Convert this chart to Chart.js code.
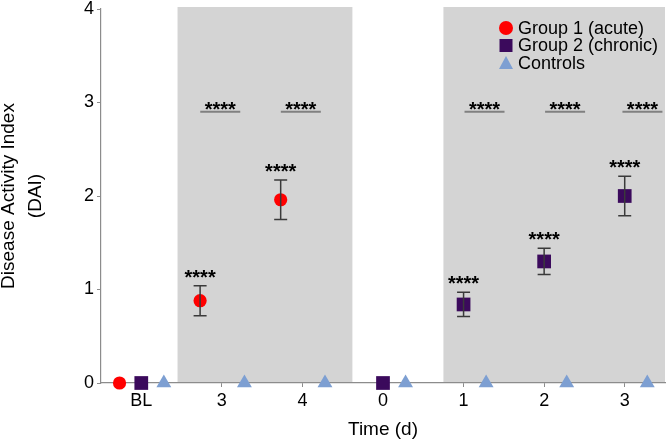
<!DOCTYPE html>
<html lang="en">
<head>
<meta charset="UTF-8">
<title>Disease Activity Index</title>
<script src="https://cdn.jsdelivr.net/npm/chart.js"></script>
<style>
    html, body { margin: 0; padding: 0; background: #fff; }
    #dai { display: block; }
</style>
</head>
<body>
<canvas id="dai" width="668" height="445"></canvas>
<script>
    // time points (baseline, acute days 3-4, chronic days 0-3)
    const timeLabels = ["BL", "3", "4", "0", "1", "2", "3"];

    const acuteMean   = [0, 0.88, 1.96, null, null, null, null];
    const acuteErr    = [0, 0.16, 0.21, null, null, null, null];
    const chronicMean = [0, null, null, 0, 0.84, 1.30, 2.00];
    const chronicErr  = [0, null, null, 0, 0.13, 0.14, 0.21];
    const controlMean = [0, 0, 0, 0, 0, 0, 0];

    // shaded periods, in time-point units
    const shadedSpans = [[0.45, 2.62], [3.75, 6.5]];

    // "****" over the controls comparison
    const sigBarX = [0.98, 1.98, 4.26, 5.26, 6.22];
    const sigBarLevel = 2.9;

    const FONT = "Arial, 'Liberation Sans', sans-serif";

    function toPoints(values, shift) {
        const pts = [];
        values.forEach((v, i) => {
            if (v !== null) pts.push({ x: i + shift, y: v });
        });
        return pts;
    }

    // kill the label overhang chart.js reserves at the ends of the axes
    function noMargins(s) {
        s.paddingLeft = s.paddingRight = s.paddingTop = s.paddingBottom = 0;
        if (s._margins) {
            s._margins.left = s._margins.right = 0;
            s._margins.top = s._margins.bottom = 0;
        }
    }

    const shading = {
        id: "shading",
        beforeDatasetsDraw(chart) {
            const { ctx, chartArea, scales } = chart;
            ctx.save();
            ctx.fillStyle = "#d4d4d4";
            shadedSpans.forEach(([a, b]) => {
                const x1 = scales.x.getPixelForValue(a);
                const x2 = scales.x.getPixelForValue(b);
                ctx.fillRect(x1, chartArea.top - 2, x2 - x1, chartArea.bottom - chartArea.top + 1);
            });
            ctx.restore();
        }
    };

    function drawStars(ctx, x, centerY) {
        const m = ctx.measureText("****");
        const off = (m.actualBoundingBoxAscent - m.actualBoundingBoxDescent) / 2;
        ctx.fillText("****", x, centerY + off);
    }

    const errorBars = {
        id: "errorBars",
        afterDatasetsDraw(chart) {
            const { ctx, scales } = chart;
            ctx.save();
            ctx.strokeStyle = "#3a3a3a";
            ctx.lineWidth = 1.5;
            ctx.fillStyle = "#000";
            ctx.font = "bold 20px " + FONT;
            ctx.textAlign = "center";
            const groups = [[acuteMean, acuteErr, -0.27], [chronicMean, chronicErr, 0]];
            groups.forEach(([means, errs, shift]) => {
                means.forEach((m, i) => {
                    if (m === null || !errs[i]) return;
                    const x = scales.x.getPixelForValue(i + shift);
                    const yTop = scales.y.getPixelForValue(m + errs[i]);
                    const yBot = scales.y.getPixelForValue(m - errs[i]);
                    ctx.beginPath();
                    ctx.moveTo(x, yTop); ctx.lineTo(x, yBot);
                    ctx.moveTo(x - 6.5, yTop); ctx.lineTo(x + 6.5, yTop);
                    ctx.moveTo(x - 6.5, yBot); ctx.lineTo(x + 6.5, yBot);
                    ctx.stroke();
                    drawStars(ctx, x, yTop - 12);
                });
            });

            // comparison bars
            const yLine = scales.y.getPixelForValue(sigBarLevel);
            ctx.strokeStyle = "#808080";
            ctx.lineWidth = 2;
            sigBarX.forEach(v => {
                const x = scales.x.getPixelForValue(v);
                ctx.beginPath();
                ctx.moveTo(x - 20, yLine); ctx.lineTo(x + 20, yLine);
                ctx.stroke();
                drawStars(ctx, x, yLine - 6);
            });
            ctx.restore();
        }
    };

    const legendBox = {
        id: "legendBox",
        afterDraw(chart) {
            const { ctx } = chart;
            ctx.save();
            ctx.font = "18px " + FONT;
            ctx.textBaseline = "middle";
            ctx.fillStyle = "#000";
            const x0 = 506, rows = [28, 45.5, 63];
            chart.data.datasets.forEach((ds, i) => {
                const y = rows[i];
                ctx.fillStyle = ds.backgroundColor;
                ctx.beginPath();
                if (ds.pointStyle === "circle") {
                    ctx.arc(x0, y, 7, 0, Math.PI * 2);
                } else if (ds.pointStyle === "rect") {
                    ctx.rect(x0 - 6.5, y - 6.5, 13, 13);
                } else {
                    ctx.moveTo(x0, y - 7); ctx.lineTo(x0 + 7, y + 6); ctx.lineTo(x0 - 7, y + 6);
                    ctx.closePath();
                }
                ctx.fill();
                ctx.fillStyle = "#000";
                ctx.fillText(ds.label, x0 + 12, y + 1);
            });
            ctx.restore();
        }
    };

    new Chart(document.getElementById("dai"), {
        type: "scatter",
        data: {
            datasets: [
                {
                    label: "Group 1 (acute)",
                    data: toPoints(acuteMean, -0.27),
                    pointStyle: "circle",
                    pointRadius: 6.6,
                    backgroundColor: "#ff0000",
                    borderColor: "#ff0000",
                    borderWidth: 0,
                    clip: false
                },
                {
                    label: "Group 2 (chronic)",
                    data: toPoints(chronicMean, 0),
                    pointStyle: "rect",
                    pointRadius: 9.7,
                    backgroundColor: "#3b0a5c",
                    borderColor: "#3b0a5c",
                    borderWidth: 0,
                    clip: false
                },
                {
                    label: "Controls",
                    data: toPoints(controlMean, 0.28),
                    pointStyle: "triangle",
                    pointRadius: 8.6,
                    backgroundColor: "#7d9fd2",
                    borderColor: "#7d9fd2",
                    borderWidth: 0,
                    clip: false
                }
            ]
        },
        options: {
            responsive: false,
            animation: false,
            layout: { autoPadding: false, padding: { top: 9, right: 3, left: 0, bottom: 0 } },
            plugins: {
                legend: { display: false },
                tooltip: { enabled: false }
            },
            scales: {
                x: {
                    type: "linear",
                    min: -0.5,
                    max: 6.5,
                    afterBuildTicks: s => { s.ticks = timeLabels.map((_, i) => ({ value: i })); },
                    afterFit: s => { s.height = 62; noMargins(s); },
                    ticks: {
                        callback: v => timeLabels[v],
                        color: "#000",
                        font: { family: FONT, size: 18 },
                        padding: 3,
                        maxRotation: 0
                    },
                    grid: { drawOnChartArea: false, tickLength: 4, color: "#8c8c8c" },
                    border: { color: "#8c8c8c", width: 1.2 },
                    title: {
                        display: true,
                        text: "Time (d)",
                        color: "#000",
                        font: { family: FONT, size: 19 },
                        padding: { top: 0, bottom: 4 }
                    }
                },
                y: {
                    min: 0,
                    max: 4,
                    afterFit: s => { s.width = 101; noMargins(s); },
                    ticks: {
                        stepSize: 1,
                        color: "#000",
                        font: { family: FONT, size: 18 },
                        padding: 3
                    },
                    grid: { drawOnChartArea: false, tickLength: 4, color: "#8c8c8c" },
                    border: { color: "#8c8c8c", width: 1.2 },
                    title: {
                        display: true,
                        text: ["Disease Activity Index", "(DAI)"],
                        color: "#000",
                        font: { family: FONT, size: 19, lineHeight: 1.4 },
                        padding: { top: -4.5, bottom: 0 }
                    }
                }
            }
        },
        plugins: [shading, errorBars, legendBox]
    });
</script>
</body>
</html>
